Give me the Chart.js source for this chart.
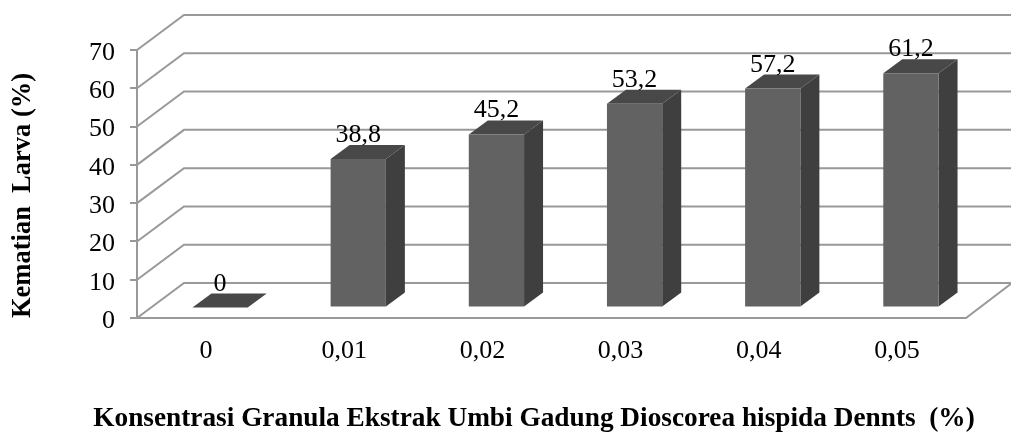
<!DOCTYPE html>
<html><head><meta charset="utf-8">
<style>html,body{margin:0;padding:0;background:#fff}canvas{display:block}</style>
<script src="https://cdn.jsdelivr.net/npm/chart.js@4"></script></head>
<body><canvas id="c" width="1011" height="432"></canvas>
<script>
const categories = ["0","0,01","0,02","0,03","0,04","0,05"];
const mortality = [0,38.8,45.2,53.2,57.2,61.2];
const valueLabels = ["0","38,8","45,2","53,2","57,2","61,2"];
const yTitle = "Kematian  Larva (%)";
const xTitle = "Konsentrasi Granula Ekstrak Umbi Gadung Dioscorea hispida Dennts  (%)";
const SERIF = '"Liberation Serif","Times New Roman",serif';
const GRID = '#999999';
const WALL = {dx:47,dy:-35};
const BAR = {ox:14,oy:-10.5,dx:19,dy:-14};
const scene = {
  id:'scene',
  afterLayout(chart){
    const s=chart.scales.y;
    if(!s._shifted){
      s._shifted=true;
      const orig=s.drawLabels;
      s.drawLabels=function(a){const c=this.ctx;c.save();c.translate(0,3);orig.call(this,a);c.restore();};
    }
  },
  beforeDatasetsDraw(chart){
    const {ctx,scales:{y},chartArea:a}=chart;
    ctx.save();
    ctx.strokeStyle=GRID;ctx.lineWidth=2;ctx.lineCap='round';
    y.ticks.forEach(t=>{
      const p=y.getPixelForValue(t.value);
      ctx.beginPath();
      ctx.moveTo(a.left,p);
      ctx.lineTo(a.left+WALL.dx,p+WALL.dy);
      ctx.lineTo(a.right+WALL.dx-1,p+WALL.dy);
      ctx.stroke();
    });
    const b=y.getPixelForValue(0);
    ctx.beginPath();
    ctx.moveTo(a.left,b);ctx.lineTo(a.right,b);ctx.lineTo(a.right+WALL.dx-1,b+WALL.dy);
    ctx.stroke();
    ctx.restore();
  },
  beforeDatasetDraw(chart,args){
    const {ctx}=chart;
    const meta=args.meta;
    ctx.save();
    ctx.translate(BAR.ox,BAR.oy);
    meta.data.forEach(el=>{
      const l=el.x-el.width/2,r=el.x+el.width/2,t=el.y,bt=el.base;
      ctx.fillStyle='#3f3f3f';
      ctx.beginPath();ctx.moveTo(r,t);ctx.lineTo(r+BAR.dx,t+BAR.dy);ctx.lineTo(r+BAR.dx,bt+BAR.dy);ctx.lineTo(r,bt);ctx.closePath();ctx.fill();
      ctx.fillStyle='#484848';
      ctx.beginPath();ctx.moveTo(l,t);ctx.lineTo(l+BAR.dx,t+BAR.dy);ctx.lineTo(r+BAR.dx,t+BAR.dy);ctx.lineTo(r,t);ctx.closePath();ctx.fill();
    });
  },
  afterDatasetDraw(chart,args){
    chart.ctx.restore();
    const {ctx}=chart;
    ctx.save();
    ctx.font='26px '+SERIF;ctx.fillStyle='#000';ctx.textAlign='center';ctx.textBaseline='alphabetic';
    args.meta.data.forEach((el,i)=>{
      ctx.fillText(valueLabels[i],el.x+BAR.ox,el.y+BAR.oy-17);
    });
    ctx.restore();
  },
  afterDraw(chart){
    const {ctx}=chart;
    ctx.save();
    ctx.font='bold 27.3px '+SERIF;ctx.fillStyle='#000';ctx.textAlign='center';ctx.textBaseline='alphabetic';
    ctx.fillText(xTitle,534,426);
    ctx.restore();
  }
};
new Chart(document.getElementById('c'),{
  type:'bar',
  data:{labels:categories,datasets:[{data:mortality,backgroundColor:'#626262',borderColor:'#626262',borderWidth:0,barPercentage:0.4,categoryPercentage:1,clip:false}]},
  options:{
    responsive:false,animation:false,devicePixelRatio:1,
    layout:{padding:{left:0,top:50,right:45,bottom:0}},
    plugins:{legend:{display:false},tooltip:{enabled:false}},
    scales:{
      x:{
        afterFit(s){s.height=114;},
        grid:{display:false},border:{display:false},
        ticks:{color:'#000',font:{family:SERIF,size:26},padding:10,maxRotation:0}
      },
      y:{
        min:0,max:70,
        afterFit(s){s.width=137;},
        grid:{drawOnChartArea:false,drawTicks:true,tickLength:7,color:GRID,lineWidth:2},
        border:{display:true,color:GRID,width:2},
        ticks:{stepSize:10,color:'#000',font:{family:SERIF,size:26},padding:15},
        title:{display:true,text:yTitle,align:'start',color:'#000',font:{family:SERIF,size:26.5,weight:'bold'},padding:{top:7,bottom:0}}
      }
    }
  },
  plugins:[scene]
});
</script></body></html>
